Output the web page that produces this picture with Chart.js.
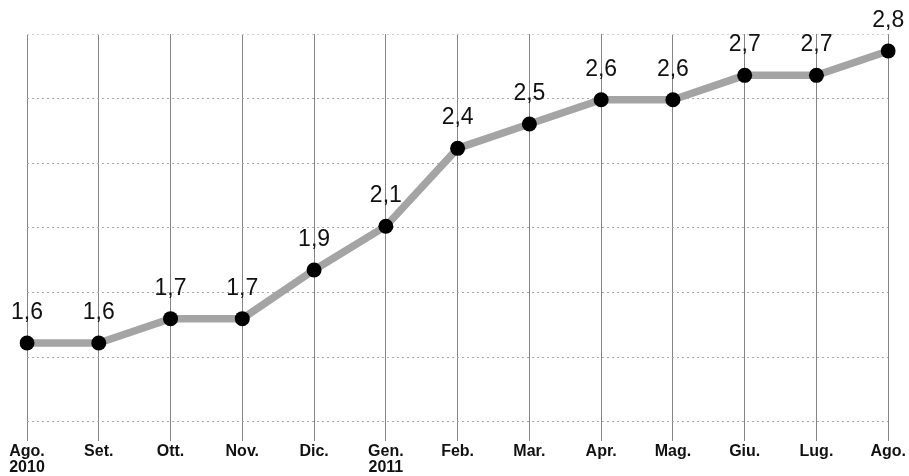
<!DOCTYPE html>
<html>
<head>
<meta charset="utf-8">
<script src="https://cdn.jsdelivr.net/npm/chart.js@4.4.1/dist/chart.umd.min.js"></script>
<style>
  html, body { margin: 0; padding: 0; background: #fff; }
  #wrap { width: 909px; height: 476px; }
</style>
</head>
<body>
<div id="wrap"><canvas id="chart"></canvas></div>
<script>
// Dati
const months = [
  ['Ago.', '2010'], 'Set.', 'Ott.', 'Nov.', 'Dic.', ['Gen.', '2011'],
  'Feb.', 'Mar.', 'Apr.', 'Mag.', 'Giu.', 'Lug.', 'Ago.'
];
const values = [1.6, 1.6, 1.7, 1.7, 1.9, 2.08, 2.4, 2.5, 2.6, 2.6, 2.7, 2.7, 2.8];

// Etichette sopra i punti
const pointLabels = {
  id: 'pointLabels',
  afterDatasetsDraw(chart) {
    const { ctx } = chart;
    const meta = chart.getDatasetMeta(0);
    ctx.save();
    ctx.font = '23px "Liberation Sans", Arial, sans-serif';
    ctx.fillStyle = '#111';
    ctx.textAlign = 'center';
    ctx.textBaseline = 'alphabetic';
    meta.data.forEach((pt, i) => {
      const txt = values[i].toFixed(1).replace('.', ',');
      ctx.fillText(txt, pt.x, pt.y - 24);
    });
    ctx.restore();
  }
};

new Chart(document.getElementById('chart').getContext('2d'), {
  type: 'line',
  data: {
    labels: months,
    datasets: [{
      data: values,
      yAxisID: 'y',
      borderColor: '#a4a4a4',
      borderWidth: 7.5,
      pointRadius: 7.5,
      pointBackgroundColor: '#000',
      pointBorderWidth: 0,
      tension: 0,
    }]
  },
  options: {
    responsive: true,
    maintainAspectRatio: false,
    animation: false,
    layout: { padding: { left: 27, right: 19, top: 34, bottom: 0 } },
    plugins: {
      legend: { display: false },
      tooltip: { enabled: false }
    },
    scales: {
      x: {
        offset: false,
        border: { display: false },
        grid: { color: '#858585', lineWidth: 1, drawTicks: false },
        ticks: {
          color: '#111',
          padding: 3,
          maxRotation: 0,
          autoSkip: false,
          font: { family: '"Liberation Sans", Arial, sans-serif', size: 16, weight: 'bold', lineHeight: 1 }
        },
        afterFit: (scale) => { scale.height = 35; }
      },
      y: {
        display: false,
        min: 1.197,
        max: 2.87
      },
      y2: {
        position: 'left',
        min: -0.294,
        max: 6,
        border: { display: false, dash: [2, 3] },
        grid: {
          color: (c) => (c.tick && c.tick.value === 6 ? '#d0d0d0' : '#a8a8a8'),
          lineWidth: 1,
          drawTicks: false
        },
        ticks: { display: false, stepSize: 1, includeBounds: false }
      }
    }
  },
  plugins: [pointLabels]
});
</script>
</body>
</html>
